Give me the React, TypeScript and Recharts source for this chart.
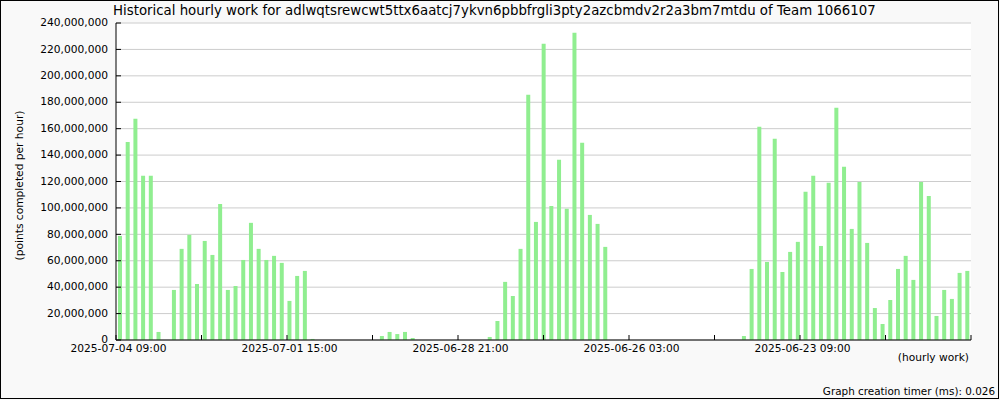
import React from 'react'
import { Bar, BarChart, CartesianGrid, XAxis, YAxis } from 'recharts'

// one value per 3-hour slot, newest first (points completed per hour)
const workValues = [
  78800000, 150000000, 167500000, 124300000, 124300000, 6100000, 0, 37900000, 69000000, 79600000,
  42400000, 75000000, 64400000, 103000000, 37900000, 40900000, 60600000, 88700000, 69000000, 60600000,
  63700000, 58400000, 29600000, 48500000, 52300000, 800000, 0, 0, 0, 0,
  0, 0, 0, 0, 3000000, 6100000, 4500000, 6100000, 1500000, 0,
  0, 0, 0, 0, 0, 0, 0, 0, 2300000, 14400000,
  44000000, 33300000, 69000000, 185700000, 89400000, 224300000, 101500000, 136400000, 99300000, 232600000,
  149300000, 94700000, 87900000, 70500000, 0, 0, 0, 0, 0, 0,
  0, 0, 0, 0, 0, 0, 0, 0, 0, 0,
  0, 3000000, 53800000, 161400000, 59100000, 152300000, 51500000, 66700000, 74300000, 112200000,
  124300000, 71200000, 119000000, 175800000, 131100000, 84100000, 119700000, 73500000, 24200000, 12100000,
  30300000, 53800000, 63700000, 45500000, 119700000, 109100000, 18200000, 37900000, 31100000, 50800000,
  52300000,
]

const xTicks = [0, 11.1, 22.2, 33.3, 44.4, 55.5, 66.6, 77.7, 88.8, 99.9, 111]
const xTickLabels = [
  '2025-07-04 09:00', '', '2025-07-01 15:00', '', '2025-06-28 21:00', '',
  '2025-06-26 03:00', '', '2025-06-23 09:00', '', '',
]
const yTicks = [
  0, 20000000, 40000000, 60000000, 80000000, 100000000, 120000000,
  140000000, 160000000, 180000000, 200000000, 220000000, 240000000,
]

const title = 'Historical hourly work for adlwqtsrewcwt5ttx6aatcj7ykvn6pbbfrgli3pty2azcbmdv2r2a3bm7mtdu of Team 1066107'

const rows = workValues.map((work, i) => ({ slot: i + 0.5, work }))

const font = '"DejaVu Sans", sans-serif'

const XTick = (props: any) => {
  const { x, y, index } = props
  return (
    <g>
      <line x1={x} y1={y} x2={x} y2={y - 5} stroke="#000" />
      {xTickLabels[index] ? (
        <text x={x + 2.5} y={y + 12} textAnchor="middle" fontSize={10.67} fontFamily={font} fill="#000">
          {xTickLabels[index]}
        </text>
      ) : null}
    </g>
  )
}

const YTick = (props: any) => {
  const { x, y, payload } = props
  return (
    <g>
      <line x1={x} y1={y} x2={x + 5} y2={y} stroke="#000" />
      <text x={x - 8} y={y} dy="0.3em" textAnchor="end" fontSize={10.67} fontFamily={font} fill="#000">
        {payload.value.toLocaleString('en-US')}
      </text>
    </g>
  )
}

export default function App() {
  return (
    <div style={{ position: 'absolute', left: 0, top: 0, width: 1000, height: 400, background: '#f9f9f9' }}>
      <BarChart width={1000} height={400} data={rows} margin={{ top: 23, right: 29, bottom: 30, left: 0 }}>
        <CartesianGrid vertical={false} stroke="#cccccc" fill="#ffffff" />
        <XAxis
          dataKey="slot"
          type="number"
          domain={[0, 111]}
          ticks={xTicks}
          interval={0}
          height={30}
          tickSize={0}
          tickMargin={0}
          tickLine={false}
          axisLine={{ stroke: '#000' }}
          tick={<XTick />}
        />
        <YAxis
          domain={[0, 240000000]}
          ticks={yTicks}
          interval={0}
          width={116}
          tickSize={0}
          tickMargin={0}
          tickLine={false}
          axisLine={{ stroke: '#000' }}
          tick={<YTick />}
        />
        <Bar dataKey="work" fill="#90ee90" barSize={4} isAnimationActive={false} />
      </BarChart>
      <svg width={1000} height={400} style={{ position: 'absolute', left: 0, top: 0, pointerEvents: 'none' }}>
        <text x={113} y={15} fontSize={13.33} fontFamily={font} fill="#000">{title}</text>
        <text x={19} y={185.5} transform="rotate(-90 19 185.5)" dy="0.36em" textAnchor="middle" fontSize={10.67} fontFamily={font} fill="#000">
          (points completed per hour)
        </text>
        <text x={969} y={361} textAnchor="end" fontSize={10.67} fontFamily={font} fill="#000">(hourly work)</text>
        <text x={995} y={395} textAnchor="end" fontSize={10.4} fontFamily={font} fill="#000">Graph creation timer (ms): 0.026</text>
        <rect x={0.5} y={0.5} width={998} height={398} fill="none" stroke="#000" />
      </svg>
    </div>
  )
}
